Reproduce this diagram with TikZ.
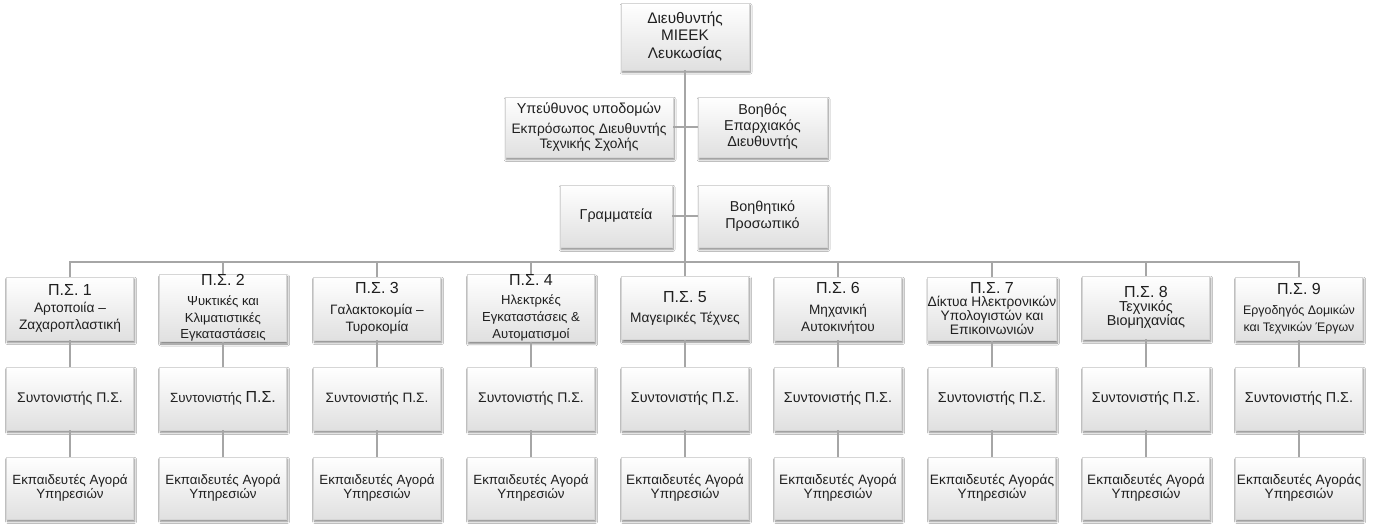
\documentclass[tikz,border=0pt]{standalone}
\usepackage{fontspec}
\setmainfont{Liberation Sans}
\usetikzlibrary{shadows.blur}
\definecolor{linegray}{HTML}{A6A6A6}
\definecolor{boxedge}{HTML}{D6D6D6}
\definecolor{boxbot}{HTML}{E0E0E0}
\definecolor{txt}{HTML}{1F1F1F}
\newcommand\fsz[2]{\fontsize{#1}{#2}\selectfont}
\begin{document}
\begin{tikzpicture}[x=0.75pt,y=-0.75pt,
  orgbox/.style={draw=boxedge, line width=0.4pt, top color=white, bottom color=boxbot,
    blur shadow={shadow xshift=0.8pt, shadow yshift=-1.8pt, shadow blur radius=1.5pt, shadow blur steps=6, shadow opacity=50},
    align=center, inner sep=0pt, text=txt, minimum width=95.25pt, minimum height=47.5pt},
  conn/.style={draw=linegray, line width=1.1pt},
  titlerow/.style={orgbox},
  midrow/.style={orgbox, minimum height=47.25pt, font=\fsz{10.5}{12}},
  botrow/.style={orgbox, minimum height=46.5pt, font=\fsz{10}{10.5}}]
\fill[white] (0,0) rectangle (1374,528);
\useasboundingbox (0,0) rectangle (1374,528);
% top
\node[orgbox, minimum width=96pt, minimum height=50pt, font=\fsz{11.5}{13.3}] (dir) at (685,36.5) {Διευθυντής\\ΜΙΕΕΚ\\Λευκωσίας};
\node[orgbox, minimum width=126pt, minimum height=45pt, font=\fsz{10.3}{11.25}] (ypef) at (589,127) {{\fsz{10.8}{11.25}Υπεύθυνος υποδομών}\\[4pt]Εκπρόσωπος Διευθυντής\\Τεχνικής Σχολής};
\node[orgbox, minimum width=96.75pt, minimum height=45pt, font=\fsz{10.75}{12}] (voith) at (762.5,127) {Βοηθός\\Επαρχιακός\\Διευθυντής};
\node[orgbox, minimum width=84pt, minimum height=46.5pt, font=\fsz{10.75}{12.5}] (gram) at (616,216) {Γραμματεία};
\node[orgbox, minimum width=96.75pt, minimum height=46.5pt, font=\fsz{10.75}{12.5}] (voithp) at (762.5,216) {Βοηθητικό\\Προσωπικό};
% title row
\node[titlerow, font=\fsz{10.3}{12.5}] (p1) at (70,308.5) {{\fsz{12}{13}Π.Σ. 1}\\Αρτοποιία –\\Ζαχαροπλαστική};
\node[titlerow, font=\fsz{9.8}{12.5}] (p2) at (223,308) {{\fsz{12}{13}Π.Σ. 2}\\[2.5pt]Ψυκτικές και\\Κλιματιστικές\\Εγκαταστάσεις};
\node[titlerow, font=\fsz{10.2}{12.75}] (p3) at (377,308.5) {{\fsz{12}{13}Π.Σ. 3}\\[3pt]Γαλακτοκομία –\\Τυροκομία};
\node[titlerow, font=\fsz{9.8}{13}] (p4) at (531,308) {{\fsz{12}{13}Π.Σ. 4}\\[1pt]Ηλεκτρκές\\Εγκαταστάσεις \&\\Αυτοματισμοί};
\node[titlerow, font=\fsz{10.3}{13}] (p5) at (685,308) {{\fsz{12}{13}Π.Σ. 5}\\[2pt]Μαγειρικές Τέχνες};
\node[titlerow, font=\fsz{10.2}{12.75}] (p6) at (838,308.5) {{\fsz{12}{13}Π.Σ. 6}\\[3pt]Μηχανική\\Αυτοκινήτου};
\node[titlerow, font=\fsz{10.3}{10.75}] (p7) at (992,309) {{\fsz{12}{13}Π.Σ. 7}\\[-1.5pt]Δίκτυα Ηλεκτρονικών\\Υπολογιστών και\\Επικοινωνιών};
\node[titlerow, font=\fsz{10.8}{10.75}] (p8) at (1146,307.5) {{\fsz{12}{13}Π.Σ. 8}\\Τεχνικός\\Βιομηχανίας};
\node[titlerow, font=\fsz{9.3}{12.75}] (p9) at (1299,308.5) {{\fsz{12}{13}Π.Σ. 9}\\[2pt]Εργοδηγός Δομικών\\και Τεχνικών Έργων};
% middle row
\node[midrow] (s1) at (70,398.5) {Συντονιστής Π.Σ.};
\node[midrow, font=\fsz{10}{12}] (s2) at (223,398.5) {Συντονιστής {\fsz{12}{12}Π.Σ.}};
\node[midrow, font=\fsz{10.2}{12}] (s3) at (377,398.5) {Συντονιστής Π.Σ.};
\node[midrow] (s4) at (531,398.5) {Συντονιστής Π.Σ.};
\node[midrow, font=\fsz{10.75}{12}] (s5) at (685,398.5) {Συντονιστής Π.Σ.};
\node[midrow, font=\fsz{10.75}{12}] (s6) at (838,398.5) {Συντονιστής Π.Σ.};
\node[midrow, font=\fsz{10.75}{12}] (s7) at (992,398.5) {Συντονιστής Π.Σ.};
\node[midrow, font=\fsz{10.75}{12}] (s8) at (1146,398.5) {Συντονιστής Π.Σ.};
\node[midrow, font=\fsz{10.75}{12}] (s9) at (1299,398.5) {Συντονιστής Π.Σ.};
% bottom row
\node[botrow] (e1) at (70,488) {Εκπαιδευτές Αγορά\\Υπηρεσιών};
\node[botrow] (e2) at (223,488) {Εκπαιδευτές Αγορά\\Υπηρεσιών};
\node[botrow] (e3) at (377,488) {Εκπαιδευτές Αγορά\\Υπηρεσιών};
\node[botrow] (e4) at (531,488) {Εκπαιδευτές Αγορά\\Υπηρεσιών};
\node[botrow, font=\fsz{10.2}{10.5}] (e5) at (685,488) {Εκπαιδευτές Αγορά\\Υπηρεσιών};
\node[botrow, font=\fsz{10.2}{10.5}] (e6) at (838,488) {Εκπαιδευτές Αγορά\\Υπηρεσιών};
\node[botrow, font=\fsz{10.2}{10.5}] (e7) at (992,488) {Εκπαιδευτές Αγοράς\\Υπηρεσιών};
\node[botrow, font=\fsz{10.2}{10.5}] (e8) at (1146,488) {Εκπαιδευτές Αγορά\\Υπηρεσιών};
\node[botrow, font=\fsz{10.2}{10.5}] (e9) at (1299,488) {Εκπαιδευτές Αγοράς\\Υπηρεσιών};
% connectors
\coordinate (bus) at (685,262);
\draw[conn] (dir) -- (bus);
\draw[conn] (ypef) -- (voith);
\draw[conn] (gram) -- (voithp);
\draw[conn] (p1.north) |- (bus) -| (p9.north);
\foreach \i in {2,...,8} {\draw[conn] (p\i.north) -- (p\i.north |- bus);}
\foreach \i in {1,...,9} {\draw[conn] (p\i) -- (s\i); \draw[conn] (s\i) -- (e\i);}
\end{tikzpicture}
\end{document}
